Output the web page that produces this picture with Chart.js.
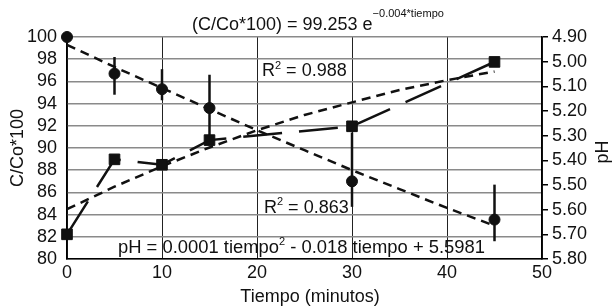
<!DOCTYPE html>
<html>
<head>
<meta charset="utf-8">
<script src="https://cdn.jsdelivr.net/npm/chart.js@4.4.1/dist/chart.umd.min.js"></script>
<style>
  html, body { margin: 0; padding: 0; background: #fff; }
  #wrap { width: 612px; height: 308px; position: relative; }
</style>
</head>
<body>
<div id="wrap"><canvas id="chart"></canvas></div>
<script>
// measured points
const tiempo = [0, 5, 10, 15, 30, 45];
const ccoValues = [100, 96.7, 95.3, 93.6, 87.0, 83.55];
const ccoHigh = [null, 98.2, 97.1, 96.6, 91.4, 86.7];
const ccoLow = [null, 94.8, 94.3, 90.6, 84.7, 81.6];
const phValues = [5.70, 5.396, 5.418, 5.318, 5.262, 5.001];

// trend lines
const trendTiempo = [0, 5, 10, 15, 20, 25, 30, 35, 40, 45];
const ccoTrend = [99.3, 97.3, 95.4, 93.5, 91.6, 89.8, 88.0, 86.3, 84.6, 83.0];
const phTrend = [5.598, 5.507, 5.424, 5.348, 5.278, 5.216, 5.165, 5.115, 5.075, 5.040];

const FONT = "'Liberation Sans', Arial, Helvetica, sans-serif";
const INK = "#111";

Chart.defaults.font.family = FONT;
Chart.defaults.font.size = 18;
Chart.defaults.color = INK;

function pts(xs, ys) {
  return xs.map(function (x, i) { return { x: x, y: ys[i] }; });
}

// draws a run of text pieces: [text, size, raise]
function richText(ctx, x, y, parts) {
  let cx = x;
  parts.forEach(function (p) {
    ctx.font = p[1] + "px " + FONT;
    ctx.fillText(p[0], cx, y - (p[2] || 0));
    cx += ctx.measureText(p[0]).width;
  });
}

const errorBars = {
  id: "errorBars",
  beforeDatasetsDraw: function (chart) {
    const ctx = chart.ctx;
    const xs = chart.scales.x, ys = chart.scales.y;
    ctx.save();
    ctx.strokeStyle = INK;
    ctx.lineWidth = 2.5;
    tiempo.forEach(function (t, i) {
      if (ccoHigh[i] == null) return;
      const px = xs.getPixelForValue(t);
      ctx.beginPath();
      ctx.moveTo(px, ys.getPixelForValue(ccoHigh[i]));
      ctx.lineTo(px, ys.getPixelForValue(ccoLow[i]));
      ctx.stroke();
    });
    ctx.restore();
  }
};

const labels = {
  id: "labels",
  afterDraw: function (chart) {
    const ctx = chart.ctx;
    const a = chart.chartArea;
    ctx.save();
    ctx.fillStyle = INK;
    ctx.textBaseline = "alphabetic";
    ctx.textAlign = "left";

    richText(ctx, 192, 29.5, [["(C/Co*100) = 99.253 e", 18], ["\u22120.004*tiempo", 11, 13]]);
    richText(ctx, 262, 76, [["R", 18], ["2", 11, 7.5], [" = 0.988", 18]]);
    richText(ctx, 264, 212.5, [["R", 18], ["2", 11, 7.5], [" = 0.863", 18]]);
    richText(ctx, 118, 252.5, [["pH = 0.0001 tiempo", 18.4], ["2", 11, 7.5], [" - 0.018 tiempo + 5.5981", 18.4]]);

    ctx.font = "18px " + FONT;
    ctx.textAlign = "center";
    ctx.fillText("Tiempo (minutos)", 310, 302);

    const mid = (a.top + a.bottom) / 2;
    ctx.textBaseline = "middle";
    ctx.save();
    ctx.translate(18, mid);
    ctx.rotate(-Math.PI / 2);
    ctx.fillText("C/Co*100", 0, 0);
    ctx.restore();
    ctx.save();
    ctx.translate(603, mid + 4);
    ctx.rotate(-Math.PI / 2);
    ctx.fillText("pH", 0, 0);
    ctx.restore();
    ctx.restore();
  }
};

new Chart(document.getElementById("chart"), {
  type: "line",
  data: {
    datasets: [
      {
        label: "pH",
        data: pts(tiempo, phValues),
        yAxisID: "y1",
        borderColor: INK,
        backgroundColor: INK,
        borderWidth: 2.5,
        borderDash: [39, 17],
        pointStyle: "rect",
        pointRadius: 7.5,
        pointBorderWidth: 1,
        clip: false,
        order: 0
      },
      {
        label: "C/Co*100",
        data: pts(tiempo, ccoValues),
        yAxisID: "y",
        showLine: false,
        borderColor: INK,
        backgroundColor: INK,
        pointStyle: "circle",
        pointRadius: 5.5,
        pointBorderWidth: 1,
        clip: false,
        order: 1
      },
      {
        label: "C/Co trend",
        data: pts(trendTiempo, ccoTrend),
        yAxisID: "y",
        borderColor: INK,
        borderWidth: 2.5,
        borderDash: [9, 6],
        pointRadius: 0,
        clip: false,
        order: 2
      },
      {
        label: "pH trend",
        data: pts(trendTiempo, phTrend),
        yAxisID: "y1",
        borderColor: INK,
        borderWidth: 2.5,
        borderDash: [9, 6],
        pointRadius: 0,
        clip: false,
        order: 3
      }
    ]
  },
  options: {
    responsive: true,
    maintainAspectRatio: false,
    animation: false,
    layout: { padding: { top: 37, left: 0, right: 0, bottom: 0 } },
    plugins: {
      legend: { display: false },
      tooltip: { enabled: false }
    },
    scales: {
      x: {
        type: "linear",
        min: 0,
        max: 50,
        ticks: { stepSize: 10, padding: 3, autoSkip: false, maxRotation: 0 },
        grid: { color: "#222", lineWidth: 1, drawTicks: false },
        border: { color: "#000", width: 1.5 },
        afterFit: function (s) { s.height = 49; }
      },
      y: {
        position: "left",
        min: 80,
        max: 100,
        ticks: { stepSize: 2, padding: 10, autoSkip: false },
        grid: { color: "#8a8a8a", lineWidth: 1.5, drawTicks: false },
        border: { color: "#000", width: 1.5 },
        afterFit: function (s) { s.width = 67; }
      },
      y1: {
        position: "right",
        reverse: true,
        min: 4.9,
        max: 5.8,
        ticks: {
          stepSize: 0.1,
          padding: 4,
          autoSkip: false,
          callback: function (v) { return Number(v).toFixed(2); }
        },
        grid: { drawOnChartArea: false, drawTicks: true, tickLength: 6, color: "#000", lineWidth: 1.5 },
        border: { color: "#000", width: 1.5 },
        afterFit: function (s) { s.width = 70; }
      }
    }
  },
  plugins: [errorBars, labels]
});
</script>
</body>
</html>
